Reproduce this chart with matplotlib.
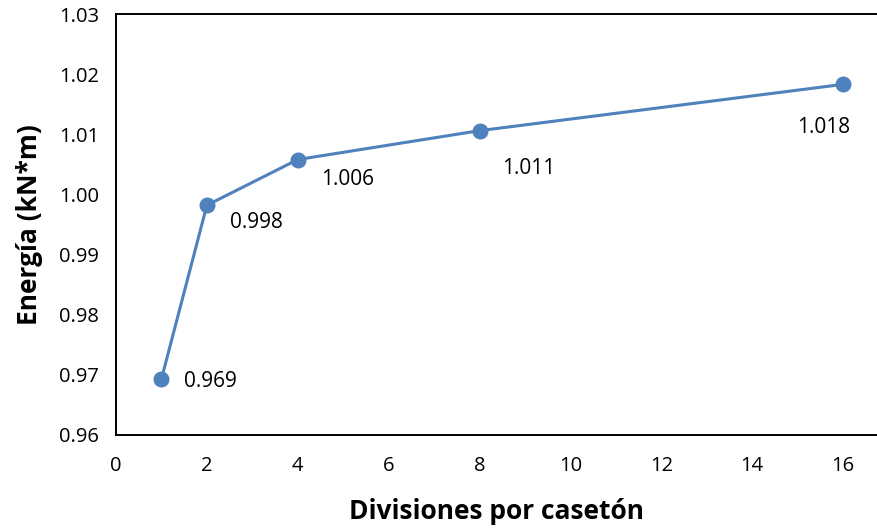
import matplotlib
matplotlib.use("Agg")
import matplotlib.pyplot as plt

divisiones = [1, 2, 4, 8, 16]
energia = [0.9693, 0.9982, 1.0058, 1.0106, 1.0183]
etiquetas = ["0.969", "0.998", "1.006", "1.011", "1.018"]
xticks = [0, 2, 4, 6, 8, 10, 12, 14, 16]
yticks = [0.96, 0.97, 0.98, 0.99, 1.00, 1.01, 1.02, 1.03]
yticklabels = ["0.96", "0.97", "0.98", "0.99", "1.00", "1.01", "1.02", "1.03"]

plt.rcParams['font.family'] = ['Open Sans', 'DejaVu Sans']

fig = plt.figure(figsize=(8.78, 5.28), dpi=100)
ax = fig.add_axes([116/878, (528-435)/528, (878-116)/878, (435-14)/528])

color = '#4F81BD'
ax.plot(divisiones, energia, color=color, lw=2.2, marker='o', ms=10.5, zorder=3)

# label offsets in pixels (dx to left edge/center, dy)
offsets = [(23, -2, 'left'), (23, -17, 'left'), (23, -20, 'left'), (23, -38, 'left'), (-19, -43, 'center')]
for x, y, t, (dx, dy, ha) in zip(divisiones, energia, etiquetas, offsets):
    ax.annotate(t, (x, y), xytext=(dx, dy), textcoords='offset pixels',
                ha=ha, va='center', fontsize=15, color='black')

ax.set_xlim(0, (878-116)/((843-116)/16))
ax.set_ylim(0.96, 1.03)
ax.set_xticks(xticks)
ax.set_xticklabels([str(v) for v in xticks])
ax.set_yticks(yticks)
ax.set_yticklabels(yticklabels)
ax.tick_params(length=0, labelsize=14.5, pad=12)
ax.tick_params(axis='x', pad=15)
for s in ['left', 'bottom', 'top']:
    ax.spines[s].set_linewidth(1.4)
ax.spines['right'].set_visible(False)

ax.set_xlabel('Divisiones por casetón', fontsize=19, fontweight='bold', labelpad=16)
ax.set_ylabel('Energía (kN*m)', fontsize=19, fontweight='bold', labelpad=12)

fig.savefig('out.png', dpi=100)
